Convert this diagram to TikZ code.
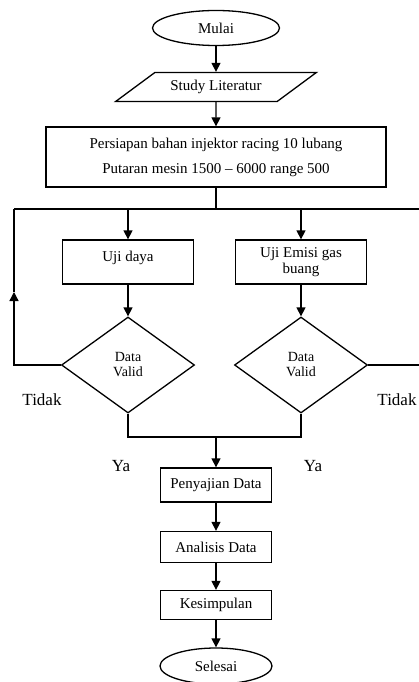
\documentclass[tikz,border=0pt]{standalone}
\usepackage{fontspec}
\setmainfont{Liberation Serif}
\usetikzlibrary{arrows.meta,shapes.geometric}

\tikzset{
  startstop/.style={ellipse,draw,inner sep=0pt,font=\fontsize{15}{17}\selectfont},
  io/.style={trapezium,trapezium left angle=25,trapezium right angle=155,trapezium stretches=true,
    draw,inner sep=0pt,minimum width=201pt,minimum height=29pt,font=\fontsize{15}{17}\selectfont},
  process/.style={rectangle,draw,inner sep=0pt,align=center,font=\fontsize{15}{16}\selectfont},
  decision/.style={diamond,draw,inner sep=0pt,align=center,minimum width=133pt,minimum height=96pt,
    font=\fontsize{14}{15}\selectfont},
  lbl/.style={font=\fontsize{17}{19}\selectfont}
}

\begin{document}
\begin{tikzpicture}[x=1pt,y=-1pt,>={Triangle[length=9pt,width=9pt]},line width=1.3pt]
\useasboundingbox (0,0) rectangle (419,682);

\node[startstop,minimum width=127pt,minimum height=35pt] (mulai) at (216,28) {Mulai};
\node[io]   (studi)[below of=mulai,node distance=59pt]    {Study Literatur};
\node[process,minimum width=340pt,minimum height=60pt,font=\fontsize{15}{25}\selectfont]
            (prep)[below of=studi,node distance=70pt]
            {Persiapan bahan injektor racing 10 lubang\\Putaran mesin 1500 -- 6000 range 500};

\node[process,minimum width=131pt,minimum height=44pt,text depth=12pt] (daya) at (128,262) {Uji daya};
\node[process,minimum width=131pt,minimum height=44pt] (emisi) at (301,262) {Uji Emisi gas\\buang};
\node[decision]   (valid1)[below of=daya,node distance=103pt]    {Data\\Valid};
\node[decision]   (valid2)[below of=emisi,node distance=103pt]   {Data\\Valid};

\node[process,minimum width=111pt,minimum height=34pt] (sajian)[below of=prep,node distance=328pt] {Penyajian Data};
\node[process,minimum width=111pt,minimum height=31pt] (analisis)[below of=sajian,node distance=62pt] {Analisis Data};
\node[process,minimum width=111pt,minimum height=29pt] (simpul)[below of=analisis,node distance=58pt] {Kesimpulan};
\node[startstop,minimum width=112pt,minimum height=36pt] (selesai)[below of=simpul,node distance=61pt] {Selesai};

\node[lbl] (tidak1) at (42,400)  {Tidak};
\node[lbl] (tidak2) at (397,400) {Tidak};
\node[lbl] (ya1)    at (121,466) {Ya};
\node[lbl] (ya2)    at (313,466) {Ya};

\coordinate (split) at (216,209);
\coordinate (tl)    at (14,209);
\coordinate (tr)    at (419,209);
\coordinate (back)  at (14,292);
\coordinate (keluar) at (419,365);
\coordinate (gabung) at (216,437);

\draw[->] (mulai) -- (studi);
\draw[->] (studi) -- (prep);
\draw (prep) -- (split);
\draw (tl) -- (tr);
\draw[->] (daya |- tl) -- (daya);
\draw[->] (emisi |- tl) -- (emisi);
\draw[->] (daya) -- (valid1);
\draw[->] (emisi) -- (valid2);
\draw[->] (valid1.west) -| (back);
\draw (back) -- (tl);
\draw (valid2.east) -- (keluar);
\draw (valid1.south) |- (gabung) -| (valid2.south);
\draw[->] (gabung) -- (sajian);
\draw[->] (sajian) -- (analisis);
\draw[->] (analisis) -- (simpul);
\draw[->] (simpul) -- (selesai);

\end{tikzpicture}
\end{document}
